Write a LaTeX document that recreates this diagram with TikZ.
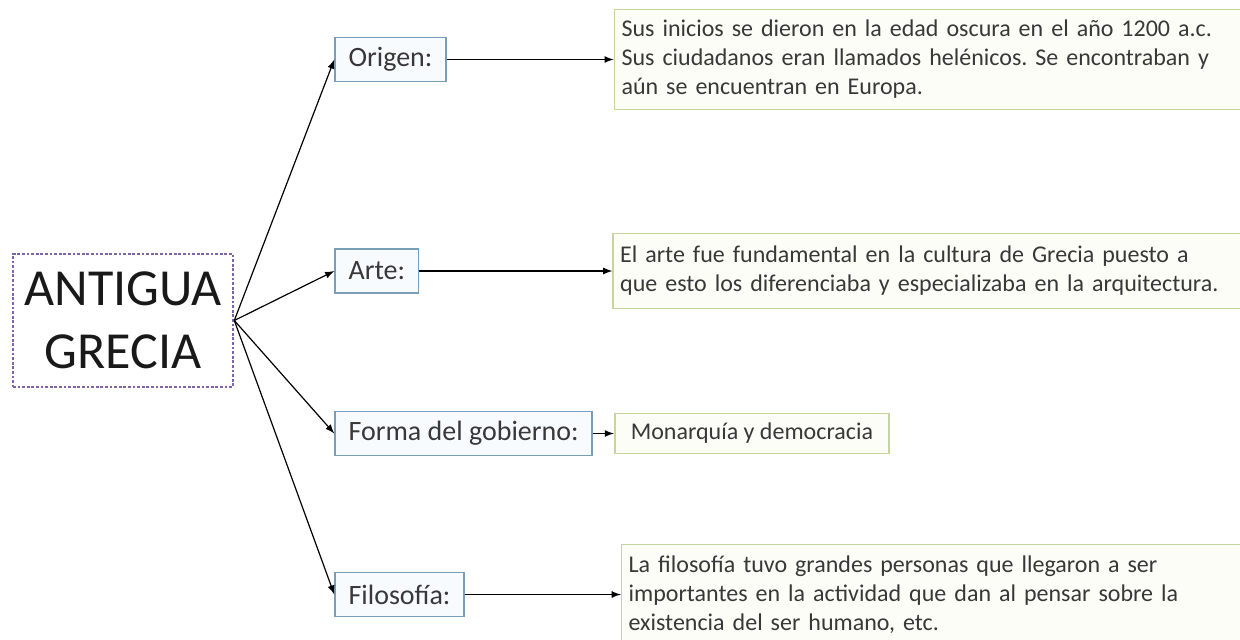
\documentclass[tikz,border=0pt]{standalone}
\usepackage{fontspec}
\setmainfont{Carlito}
\usetikzlibrary{calc,shapes,positioning,arrows}
\definecolor{purpura}{RGB}{128,100,170}
\definecolor{azul}{RGB}{122,157,184}
\definecolor{azulclaro}{RGB}{248,251,253}
\definecolor{verde}{RGB}{196,214,158}
\definecolor{verdeclaro}{RGB}{253,253,247}
\definecolor{gris}{RGB}{56,56,56}
\frenchspacing

\begin{document}
\begin{tikzpicture}[x=0.5pt,y=-0.5pt,
  titulo/.style={draw=purpura,dash pattern=on 1.4pt off 0.9pt,line width=1.3pt,align=center,
    minimum width=110pt,minimum height=66.5pt,inner sep=0pt,font=\fontsize{26}{31.5}\selectfont,text=black!90},
  rama/.style={draw=azul,fill=azulclaro,line width=0.8pt,inner xsep=6.75pt,inner ysep=0pt,
    minimum height=22pt,font=\fontsize{14}{17}\selectfont,text=gris},
  nota/.style={draw=verde,fill=verdeclaro,line width=0.8pt,align=left,inner xsep=3.5pt,
    font=\fontsize{12}{14.5}\selectfont,text=gris}]
     \useasboundingbox (0,0) rectangle (1240,640);
     \clip (0,0) rectangle (1240,640);
     \node at (123,320.5)[titulo](grecia){ANTIGUA\\GRECIA};
     \node at ($(grecia.east)+(100,-261)$)[rama,anchor=west](origen){Origen:};
     \node at ($(grecia.east)+(100,-49.5)$)[rama,anchor=west](arte){Arte:};
     \node at ($(grecia.east)+(100,113)$)[rama,anchor=west](forma){Forma del gobierno:};
     \node at ($(grecia.east)+(100,274)$)[rama,anchor=west](filo){Filosofía:};
     \node at ($(origen.east)+(167,0)$)[nota,anchor=west,text width=312.5pt,minimum height=50pt](origentxt){Sus inicios se dieron en la edad oscura en el año 1200 a.c.\\Sus ciudadanos eran llamados helénicos. Se encontraban y\\aún se encuentran en Europa.};
     \node at ($(arte.east)+(193,0)$)[nota,anchor=west,text width=312.5pt,minimum height=37.5pt](artetxt){El arte fue fundamental en la cultura de Grecia puesto a\\que esto los diferenciaba y especializaba en la arquitectura.};
     \node at ($(forma.east)+(21,0)$)[nota,anchor=west,inner xsep=8pt,minimum height=20pt](formatxt){Monarquía y democracia};
     \node at ($(filo.east)+(156,0)$)[nota,anchor=west,text width=312pt,minimum height=50pt](filotxt){La filosofía tuvo grandes personas que llegaron a ser\\importantes en la actividad que dan al pensar sobre la\\existencia del ser humano, etc.};
     \path[->,>=latex,line width=0.6pt](grecia.east)edge(origen.west)edge(arte.west)edge(forma.west)edge(filo.west);
     \path[->,>=latex,line width=0.6pt](origen)edge(origentxt)(arte)edge(artetxt);
     \path[->,>=latex,line width=0.6pt](forma)edge(formatxt)(filo)edge(filotxt);
\end{tikzpicture}
\end{document}
